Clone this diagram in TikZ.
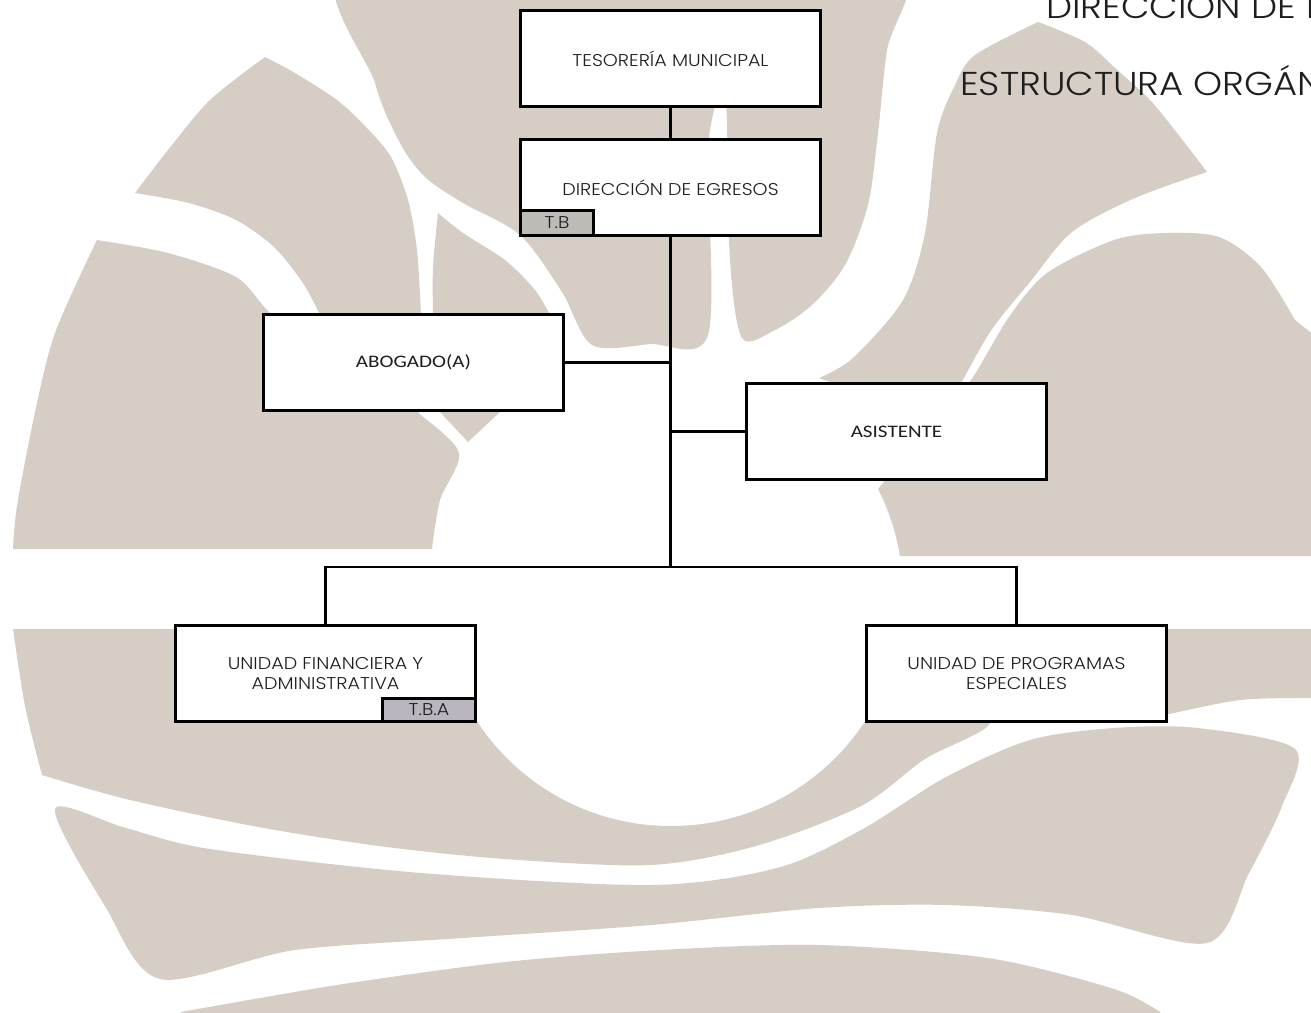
\documentclass[tikz,border=0pt]{standalone}
\usepackage{fontspec}
\IfFontExistsTF{Poppins Light}{\setmainfont[FakeStretch=1.12]{Poppins Light}}{\setmainfont[FakeStretch=1.12]{Poppins}}
\newfontfamily\calib[FakeStretch=1.2]{Carlito}
\definecolor{fondo}{RGB}{214,206,197}
\definecolor{gristab}{RGB}{190,186,182}
\definecolor{lilatab}{RGB}{187,181,192}
\definecolor{tinta}{RGB}{30,30,30}
\tikzset{>=stealth,
  caja/.style={draw, line width=0.06cm, fill=white, text=tinta,
    minimum width=6cm, minimum height=1.92cm, align=center,
    font=\fontsize{9.7}{11.4}\selectfont},
  cajacal/.style={caja, font=\calib\fontsize{10}{12}\selectfont},
  pestana/.style={draw, line width=0.06cm, inner sep=0pt, text=tinta,
    font=\fontsize{9.7}{10}\selectfont},
  linea/.style={line width=0.05cm},
  mancha/.style={fill=fondo, draw=none},
  titulo/.style={anchor=base west, inner sep=0pt, text=tinta, font=\fontsize{18.8}{20}\selectfont}
}

\begin{document}
\begin{tikzpicture}[x=0.02cm,y=-0.02cm]
  \useasboundingbox (0,0) rectangle (1311,1012);
  \clip (0,0) rectangle (1311,1012);
  \fill[white] (0,0) rectangle (1311,1012);

  % fondo
  \fill[mancha] plot[smooth cycle] coordinates {(350,-40) (712,-40) (708,150) (708,335)
    (650,344) (592,345) (562,292) (520,235) (463,203) (425,177) (400,143) (375,83)};
  \fill[mancha] plot[smooth cycle] coordinates {(725,-40) (905,-40) (887,50) (878,133)
    (868,205) (845,265) (812,305) (775,330) (742,338) (730,260) (727,120)};
  \fill[mancha] plot[smooth] coordinates {(1038,22) (1085,42) (1114,67) (1150,100) (1177,133) (1207,172)}
    -- plot[smooth] coordinates {(1207,172) (1135,198) (1072,232) (1030,282) (990,332) (955,395)}
    -- (880,400) -- plot[smooth] coordinates {(819,378) (853,358) (903,300) (925,233) (937,133) (955,85) (975,55) (1038,22)}
    -- cycle;
  \fill[mancha] (850,556) -- (1345,556) -- (1345,360)
    -- plot[smooth] coordinates {(1295,320) (1261,267) (1219,237) (1165,233) (1114,240)
    (1047,273) (1009,317) (971,380) (930,430) (870,500) (850,556)} -- cycle;
  \fill[mancha] plot[smooth] coordinates {(265,57) (295,73) (337,100) (366,127) (391,157) (408,200) (417,250) (421,315)}
    -- (320,315) -- plot[smooth] coordinates {(320,315) (303,283) (274,247) (236,220) (189,203) (135,193)}
    -- plot[smooth] coordinates {(135,193) (168,150) (210,100) (265,57)} -- cycle;
  \fill[mancha] plot[smooth] coordinates {(438,213) (463,233) (505,260) (535,290) (550,315)}
    -- (433,315) -- plot[smooth] coordinates {(433,315) (433,267) (438,213)} -- cycle;
  \fill[mancha] plot[smooth] coordinates {(13,549) (17,506) (34,417) (55,333) (97,240)}
    -- plot[smooth] coordinates {(97,240) (168,253) (236,277) (269,312) (330,370) (400,400)
    (421,415) (459,453) (440,500) (432,549)} -- cycle;
  \fill[mancha] (440,412) -- (500,412) -- (468,442) -- cycle;
  \fill[mancha] (13,629) -- (1000,629)
    -- plot[smooth] coordinates {(1000,629) (995,690) (988,726) (925,759) (861,806) (756,846)
    (651,865) (505,859) (379,846) (253,826) (126,799) (42,775)}
    -- plot[smooth] coordinates {(42,775) (25,706) (13,629)} -- cycle;
  \fill[mancha] (1165,629) -- (1345,629) -- (1345,698)
    -- plot[smooth] coordinates {(1311,698) (1240,700) (1165,715)} -- cycle;
  \fill[mancha] plot[smooth cycle] coordinates {(55,809) (126,828) (210,849) (421,873) (651,885)
    (777,868) (861,830) (946,777) (1030,740) (1114,728) (1198,728) (1295,749) (1282,806)
    (1249,873) (1207,943) (1072,915) (946,905) (819,908) (651,925) (463,938) (295,950)
    (160,979) (105,906)};
  \fill[mancha] (160,1040) -- plot[smooth] coordinates {(181,1012) (337,985) (505,962) (660,950)
    (819,945) (988,958) (1114,989) (1160,1012)} -- (1180,1040) -- cycle;
  \fill[white] (671,594) circle[radius=4.64cm];

  % titulo
  \node[titulo] (tit1) at (1046,18) {DIRECCIÓN DE E};
  \node[titulo] (tit2) at (960,95) {ESTRUCTURA ORGÁN};

  % organigrama
  \node[caja] (tes) at (670.5,58.5) {TESORERÍA MUNICIPAL};
  \node[caja] (dir) at (670.5,187.5) {DIRECCIÓN DE EGRESOS};
  \node[cajacal] (abo) at (413.5,362.5) {ABOGADO(A)};
  \node[cajacal] (asi) at (896.5,431.5) {ASISTENTE};
  \node[caja] (ufa) at (325.5,673.5) {UNIDAD FINANCIERA Y\\ADMINISTRATIVA};
  \node[caja] (upe) at (1016.5,673.5) {UNIDAD DE PROGRAMAS\\ESPECIALES};

  \node[pestana, fill=gristab, minimum width=1.46cm, minimum height=0.5cm, anchor=south west] (tb) at (dir.south west) {T.B};
  \node[pestana, fill=lilatab, minimum width=1.86cm, minimum height=0.46cm, anchor=south east] (tba) at (ufa.south east) {T.B.A};

  \coordinate (split) at (dir.south |- 0,567);
  \draw[linea] (tes.south) -- (dir.north);
  \draw[linea] (dir.south) -- (split);
  \draw[linea] (abo.east) -- (abo.east -| split);
  \draw[linea] (asi.west) -- (asi.west -| split);
  \draw[linea] (ufa.north) |- (split) -| (upe.north);

\end{tikzpicture}
\end{document}
